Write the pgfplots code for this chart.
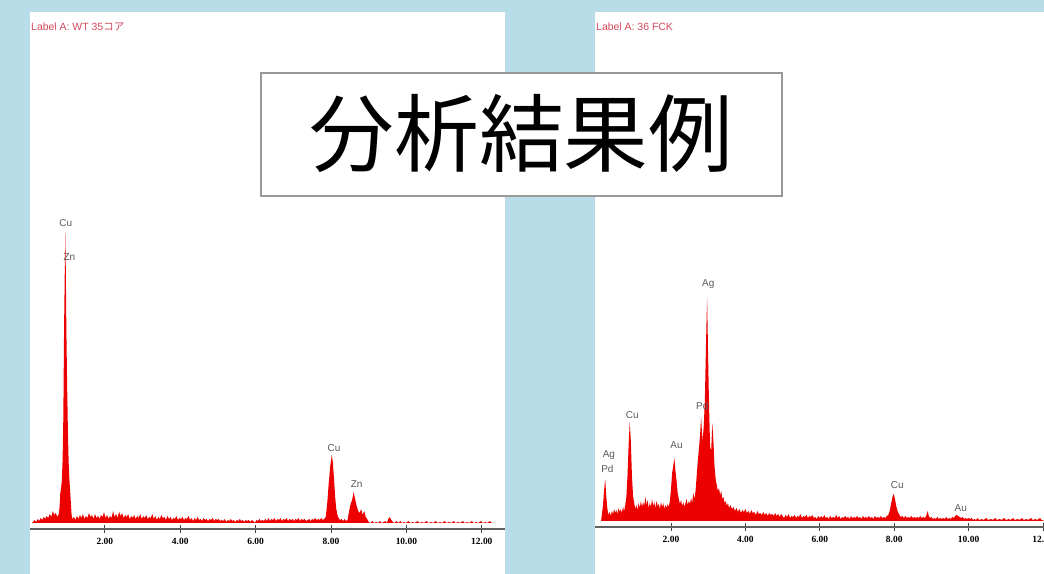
\documentclass[border=0pt]{standalone}
\usepackage{pgfplots}
\pgfplotsset{compat=1.18}
\usepackage{pgfplotstable}
\usepackage{fontspec}
\setmainfont{Liberation Sans}
\newfontfamily\cjk{Noto Sans CJK JP}
\newfontfamily\tickfont{Liberation Serif}
\definecolor{bgblue}{RGB}{184,221,232}
\definecolor{specred}{RGB}{236,0,0}
\definecolor{hdrred}{RGB}{212,72,92}
\definecolor{lblgray}{RGB}{90,90,90}

\pgfplotstableread{
E c
0.05 0
0.10 1
0.14 3
0.18 1
0.22 4
0.26 2
0.30 5
0.34 3
0.38 6
0.42 4
0.46 7
0.50 5
0.54 9
0.58 6
0.62 12
0.66 8
0.70 10
0.74 6
0.78 9
0.80 16
0.82 30
0.84 35
0.86 42
0.88 62
0.90 105
0.92 195
0.935 240
0.95 291
0.965 255
0.98 195
1.00 140
1.02 95
1.04 62
1.06 44
1.08 32
1.10 20
1.12 8
1.14 4
1.18 6
1.22 3
1.26 7
1.30 4
1.34 8
1.38 5
1.42 9
1.46 4
1.50 7
1.54 5
1.58 10
1.62 6
1.66 8
1.70 4
1.74 9
1.78 5
1.82 7
1.86 4
1.90 8
1.94 6
1.98 11
2.02 5
2.06 8
2.10 4
2.14 7
2.18 5
2.22 12
2.26 6
2.30 9
2.34 5
2.38 11
2.42 7
2.46 10
2.50 5
2.54 8
2.58 6
2.62 9
2.66 4
2.70 7
2.74 5
2.78 8
2.82 4
2.86 7
2.90 5
2.94 9
2.98 4
3.02 7
3.06 5
3.10 8
3.14 4
3.18 6
3.22 5
3.26 9
3.30 4
3.34 7
3.38 3
3.42 6
3.46 4
3.50 8
3.54 5
3.58 6
3.62 3
3.66 7
3.70 4
3.74 6
3.78 3
3.82 5
3.86 4
3.90 7
3.94 3
3.98 5
4.02 4
4.06 6
4.10 3
4.14 5
4.18 4
4.22 7
4.26 3
4.30 5
4.34 2
4.38 5
4.42 3
4.46 6
4.50 3
4.54 4
4.58 2
4.62 5
4.66 3
4.70 4
4.74 2
4.78 4
4.82 3
4.86 5
4.90 2
4.94 4
4.98 3
5.02 4
5.06 2
5.10 3
5.14 2
5.18 4
5.22 1
5.26 3
5.30 2
5.34 4
5.38 2
5.42 3
5.46 1
5.50 3
5.54 2
5.58 4
5.62 2
5.66 3
5.70 1
5.74 3
5.78 2
5.82 3
5.86 1
5.90 3
5.94 2
5.98 0
6.02 3
6.06 2
6.10 4
6.14 2
6.18 3
6.22 2
6.26 4
6.30 2
6.34 5
6.38 2
6.42 4
6.46 3
6.50 5
6.54 2
6.58 4
6.62 3
6.66 5
6.70 2
6.74 4
6.78 3
6.82 5
6.86 2
6.90 4
6.94 3
6.98 4
7.02 2
7.06 4
7.10 3
7.14 5
7.18 2
7.22 4
7.26 3
7.30 4
7.34 2
7.38 3
7.42 4
7.46 2
7.50 4
7.54 3
7.58 5
7.62 3
7.66 4
7.70 3
7.74 5
7.78 3
7.82 4
7.86 6
7.90 20
7.94 40
7.98 57
8.02 68
8.05 60
8.08 44
8.11 26
8.14 14
8.17 8
8.20 5
8.24 3
8.28 4
8.32 2
8.36 4
8.40 2
8.44 3
8.48 12
8.52 19
8.56 23
8.60 31
8.64 24
8.68 17
8.72 12
8.76 10
8.80 14
8.84 8
8.88 12
8.92 6
8.96 4
9.00 1
9.04 0
9.10 2
9.14 0
9.20 1
9.24 0
9.30 2
9.34 0
9.40 1
9.44 2
9.48 0
9.52 4
9.56 6
9.60 3
9.64 1
9.68 0
9.74 2
9.78 0
9.84 2
9.88 0
9.94 1
9.98 0
10.06 2
10.10 0
10.18 1
10.22 0
10.30 2
10.34 0
10.42 1
10.46 0
10.54 2
10.58 0
10.66 1
10.70 0
10.78 2
10.82 0
10.90 1
10.94 0
11.02 2
11.06 0
11.14 1
11.18 0
11.26 2
11.30 0
11.38 1
11.42 0
11.50 2
11.54 0
11.62 1
11.66 0
11.74 2
11.78 0
11.86 1
11.90 0
11.98 2
12.02 0
12.10 1
12.14 0
12.22 2
12.26 0
12.40 0
}\leftspec

\pgfplotstableread{
E c
0.12 0
0.14 6
0.17 15
0.20 30
0.23 42
0.26 25
0.29 12
0.32 6
0.35 9
0.38 5
0.41 10
0.44 7
0.47 12
0.50 8
0.53 11
0.56 7
0.59 13
0.62 9
0.65 12
0.68 8
0.71 14
0.74 10
0.77 16
0.80 24
0.83 45
0.86 75
0.89 99
0.92 80
0.95 45
0.98 25
1.01 18
1.04 12
1.07 16
1.10 11
1.13 18
1.16 13
1.19 20
1.22 14
1.25 19
1.28 15
1.31 24
1.34 16
1.37 21
1.40 13
1.43 18
1.46 14
1.49 22
1.52 15
1.55 19
1.58 13
1.61 20
1.64 15
1.67 17
1.70 12
1.73 19
1.76 14
1.79 18
1.82 12
1.85 16
1.88 13
1.91 17
1.94 14
1.97 20
2.00 32
2.03 48
2.06 55
2.09 63
2.12 50
2.15 40
2.18 28
2.21 22
2.24 17
2.27 21
2.30 15
2.33 19
2.36 14
2.39 18
2.42 22
2.45 16
2.48 20
2.51 17
2.54 23
2.57 18
2.60 28
2.63 22
2.66 30
2.69 45
2.72 60
2.75 72
2.78 85
2.81 104
2.83 90
2.85 80
2.88 95
2.91 120
2.94 175
2.97 224
3.00 160
3.02 120
3.05 75
3.08 70
3.11 98
3.14 80
3.17 55
3.20 42
3.23 36
3.26 30
3.29 33
3.32 26
3.35 30
3.38 22
3.41 24
3.44 18
3.47 20
3.50 15
3.53 18
3.56 13
3.60 16
3.64 12
3.68 14
3.72 10
3.76 13
3.80 9
3.84 12
3.88 8
3.92 11
3.96 9
4.00 12
4.04 8
4.08 10
4.12 7
4.16 11
4.20 8
4.24 9
4.28 6
4.32 10
4.36 7
4.40 8
4.44 6
4.48 9
4.52 6
4.56 8
4.60 5
4.64 8
4.68 6
4.72 7
4.76 5
4.80 8
4.84 5
4.88 7
4.92 4
4.96 7
5.00 5
5.04 3
5.08 6
5.12 4
5.16 7
5.20 3
5.24 5
5.28 4
5.32 6
5.36 3
5.40 5
5.44 4
5.48 7
5.52 3
5.56 5
5.60 4
5.64 6
5.68 3
5.72 5
5.76 4
5.80 6
5.84 3
5.88 4
5.92 2
5.96 5
6.00 3
6.04 5
6.08 3
6.12 6
6.16 3
6.20 4
6.24 2
6.28 5
6.32 3
6.36 4
6.40 3
6.44 6
6.48 3
6.52 5
6.56 2
6.60 4
6.64 3
6.68 5
6.72 3
6.76 4
6.80 2
6.84 5
6.88 3
6.92 4
6.96 3
7.00 5
7.04 3
7.08 4
7.12 2
7.16 5
7.20 3
7.24 4
7.28 3
7.32 5
7.36 3
7.40 4
7.44 2
7.48 5
7.52 3
7.56 4
7.60 3
7.64 5
7.68 3
7.72 4
7.76 3
7.80 5
7.84 6
7.88 10
7.92 18
7.96 25
7.99 27
8.02 22
8.06 14
8.10 9
8.14 6
8.18 4
8.22 5
8.26 3
8.30 5
8.34 3
8.38 4
8.42 3
8.46 5
8.50 3
8.54 4
8.58 3
8.62 4
8.66 3
8.70 5
8.74 3
8.78 4
8.82 3
8.86 5
8.90 10
8.93 5
8.96 3
9.00 4
9.04 2
9.08 3
9.12 2
9.16 4
9.20 2
9.24 3
9.28 2
9.32 3
9.36 2
9.40 4
9.44 2
9.48 3
9.52 2
9.56 4
9.60 3
9.64 5
9.68 6
9.72 5
9.76 4
9.80 3
9.84 4
9.88 2
9.92 3
9.96 2
10.00 3
10.04 2
10.08 3
10.12 1
10.16 2
10.20 1
10.24 3
10.28 1
10.36 2
10.40 1
10.48 3
10.52 1
10.60 2
10.64 1
10.72 3
10.76 1
10.84 2
10.88 1
10.96 3
11.00 1
11.08 2
11.12 1
11.20 3
11.24 1
11.32 2
11.36 1
11.44 3
11.48 1
11.56 2
11.60 1
11.68 3
11.72 1
11.80 2
11.84 1
11.92 3
11.96 1
12.04 0
}\rightspec

\tikzset{
  lbl/.style={font=\fontsize{10}{12}\selectfont, text=lblgray, anchor=base, inner sep=0pt},
}
\pgfplotsset{
  specaxis/.style={
    scale only axis,
    anchor=south west,
    ymin=-6,
    axis x line*=bottom,
    axis y line=none,
    axis line style={draw=gray!75!black, line width=1.2bp},
    xtick={2,4,6,8,10,12},
    xtick align=center,
    major tick length=7bp,
    tick style={draw=black!75, line width=0.8bp},
    xticklabel style={font=\tickfont\bfseries\fontsize{9.5}{11}\selectfont, text=black, yshift=-2.5bp,
      /pgf/number format/fixed, /pgf/number format/fixed zerofill,
      /pgf/number format/precision=2, /pgf/number format/assume math mode=true},
  },
}

\begin{document}
\begin{tikzpicture}
\useasboundingbox (0,0) rectangle (1044bp,574bp);
\clip (0,0) rectangle (1044bp,574bp);
\fill[bgblue] (0,0) rectangle (1044bp,574bp);
\fill[white] (30bp,0) rectangle (505bp,562bp);
\fill[white] (595bp,0) rectangle (1044bp,562bp);

\node[anchor=base west, inner sep=0pt, text=hdrred, font=\fontsize{10.5}{12}\selectfont] at (31bp,543.5bp) {Label A: WT 35{\cjk コア}};
\node[anchor=base west, inner sep=0pt, text=hdrred, font=\fontsize{10.5}{12}\selectfont] at (596bp,543.5bp) {Label A: 36 FCK};

% left spectrum
\begin{axis}[specaxis, at={(30bp,45bp)}, width=475bp, height=517bp,
  xmin=0.016, xmax=12.615, ymax=511]
\addplot[fill=specred, draw=none] table[x=E, y=c] {\leftspec} \closedcycle;
\node[lbl] at (axis cs:0.963,296) {Cu};
\node[lbl] at (axis cs:1.06,262) {Zn};
\node[lbl] at (axis cs:8.08,71) {Cu};
\node[lbl] at (axis cs:8.68,35) {Zn};
\end{axis}

% right spectrum
\begin{axis}[specaxis, at={(595bp,47bp)}, width=449bp, height=515bp,
  xmin=-0.043, xmax=12.027, ymax=509]
\addplot[fill=specred, draw=none] table[x=E, y=c] {\rightspec} \closedcycle;
\node[lbl] at (axis cs:3.0,234) {Ag};
\node[lbl] at (axis cs:2.84,111) {Pd};
\node[lbl] at (axis cs:0.96,102) {Cu};
\node[lbl] at (axis cs:2.15,72) {Au};
\node[lbl] at (axis cs:0.33,63) {Ag};
\node[lbl] at (axis cs:0.29,48) {Pd};
\node[lbl] at (axis cs:8.08,32) {Cu};
\node[lbl] at (axis cs:9.79,9) {Au};
\end{axis}

% title box
\draw[draw=gray!80, line width=1.5bp, fill=white] (261bp,378bp) rectangle (782bp,501bp);
\node[inner sep=0pt, font=\cjk\fontsize{85}{90}\selectfont, text=black] at (521.5bp,440bp) {分析結果例};
\end{tikzpicture}
\end{document}
